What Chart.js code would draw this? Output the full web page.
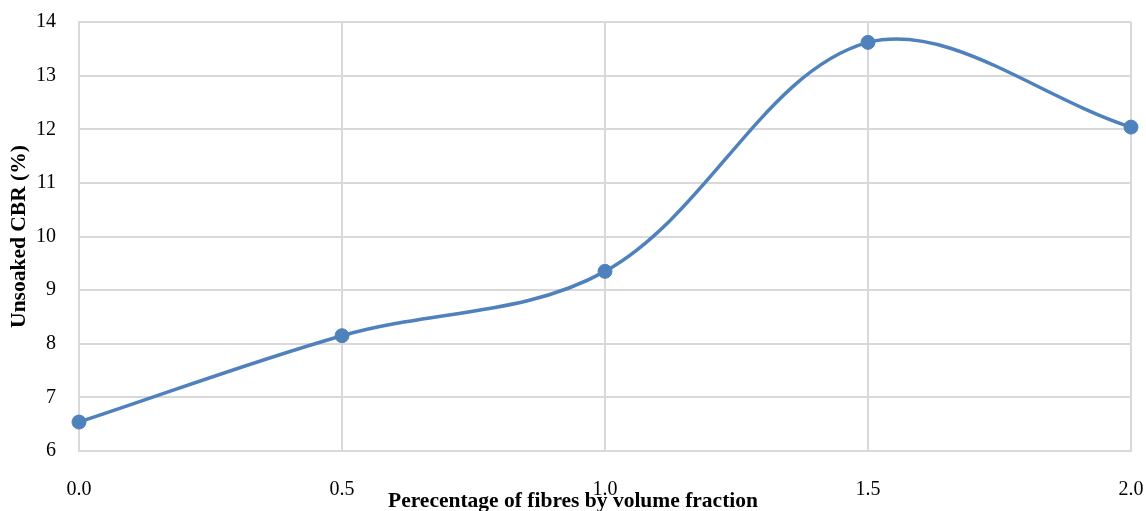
<!DOCTYPE html>
<html>
<head>
<meta charset="utf-8">
<script src="https://cdn.jsdelivr.net/npm/chart.js@4"></script>
<style>
  html, body { margin: 0; padding: 0; background: #fff; }
  #wrap { width: 1146px; height: 511px; position: relative; }
</style>
</head>
<body>
<div id="wrap"><canvas id="myChart"></canvas></div>
<script>
var fibres = [0.0, 0.5, 1.0, 1.5, 2.0];
var cbr = [6.54, 8.15, 9.35, 13.62, 12.04];
var xTicks = [0.0, 0.5, 1.0, 1.5, 2.0];
var yTicks = [6, 7, 8, 9, 10, 11, 12, 13, 14];

var ctx = document.getElementById('myChart').getContext('2d');
var gridColor = '#d9d9d9';
var serif = '"Liberation Serif", "Times New Roman", serif';

var chart = new Chart(ctx, {
    type: 'line',
    data: {
        datasets: [{
            label: 'Unsoaked CBR',
            data: fibres.map(function(f, i) { return { x: f, y: cbr[i] }; }),
            borderColor: '#4f81bd',
            backgroundColor: '#4f81bd',
            borderWidth: 3.5,
            pointRadius: 7,
            pointBorderWidth: 1,
            pointBorderColor: '#4f81bd',
            tension: 0.35,
            clip: false,
            fill: false
        }]
    },
    options: {
        responsive: true,
        maintainAspectRatio: false,
        animation: false,
        layout: { padding: 0 },
        plugins: {
            legend: { display: false },
            // x axis caption, centred on the whole canvas like the original
            title: {
                display: true,
                position: 'bottom',
                text: 'Perecentage of fibres by volume fraction',
                color: '#000',
                font: { family: serif, size: 21.5, weight: 'bold', lineHeight: 1.2 },
                padding: { top: -22.8, bottom: -3 }
            },
            tooltip: { enabled: false }
        },
        scales: {
            x: {
                type: 'linear',
                min: 0,
                max: 2,
                afterBuildTicks: function(axis) {
                    axis.ticks = xTicks.map(function(v) { return { value: v }; });
                },
                afterFit: function(axis) {
                    axis.height = 60;
                    axis.paddingLeft = 0;
                    axis.paddingRight = 15;
                },
                grid: { color: gridColor, lineWidth: 2, drawTicks: false },
                border: { color: gridColor, width: 2 },
                ticks: {
                    padding: 27,
                    color: '#000',
                    font: { family: serif, size: 20 },
                    maxRotation: 0,
                    callback: function(v) { return Number(v).toFixed(1); }
                }
            },
            y: {
                min: 6,
                max: 14,
                afterBuildTicks: function(axis) {
                    axis.ticks = yTicks.map(function(v) { return { value: v }; });
                },
                afterFit: function(axis) {
                    axis.width = 79;
                    axis.paddingTop = 22;
                    axis.paddingBottom = 0;
                },
                grid: { color: gridColor, lineWidth: 2, drawTicks: false },
                border: { color: gridColor, width: 2 },
                ticks: {
                    padding: 23,
                    color: '#000',
                    font: { family: serif, size: 20 }
                },
                title: {
                    display: true,
                    text: 'Unsoaked CBR (%)',
                    color: '#000',
                    font: { family: serif, size: 21.5, weight: 'bold' },
                    padding: { top: 7, bottom: 0 }
                }
            }
        }
    }
});
</script>
</body>
</html>
